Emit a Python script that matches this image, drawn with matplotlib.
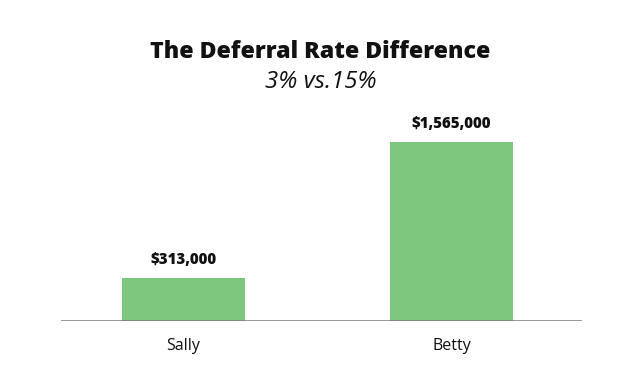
import matplotlib
matplotlib.use("Agg")
import matplotlib.pyplot as plt

plt.rcParams['font.family'] = ['Open Sans', 'DejaVu Sans']

categories = ["Sally", "Betty"]
values = [313000, 1565000]
labels = ["$313,000", "$1,565,000"]
title = "The Deferral Rate Difference"
subtitle = "3% vs.15%"

W, H = 641, 391
base = -82855
fig = plt.figure(figsize=(W / 100, H / 100), dpi=100)
ax = fig.add_axes([61 / W, (H - 321) / H, (582 - 61) / W, 221 / H])

x = list(range(len(categories)))
heights = [v - base for v in values]
ax.bar(x, heights, bottom=base, width=0.459, color="#7dc67d", zorder=2)
for xi, v, lab in zip(x, values, labels):
    ax.annotate(lab, (xi, v), xytext=(0, 9.8), textcoords="offset points",
                ha="center", va="baseline", fontsize=10.8, fontweight="heavy", color="#111111")

ax.set_xlim(-0.457, 1.487)
ax.set_ylim(base, base + 221 / (136 / 1252000))
ax.axhline(base, color="#7a7a7a", lw=1.8, zorder=3)
for s in ax.spines.values():
    s.set_visible(False)
ax.set_yticks([])
ax.set_xticks(x)
ax.set_xticklabels(categories, fontsize=11.5, color="#111111")
ax.tick_params(axis="x", length=0, pad=12)

fig.text(0.5, 1 - 58 / H, title, ha="center", va="baseline", fontsize=16.7, fontweight="heavy", color="#111111")
fig.text(0.5, 1 - 88 / H, subtitle, ha="center", va="baseline", fontsize=17.3, style="italic", color="#111111")

fig.savefig("out.png", dpi=100)
